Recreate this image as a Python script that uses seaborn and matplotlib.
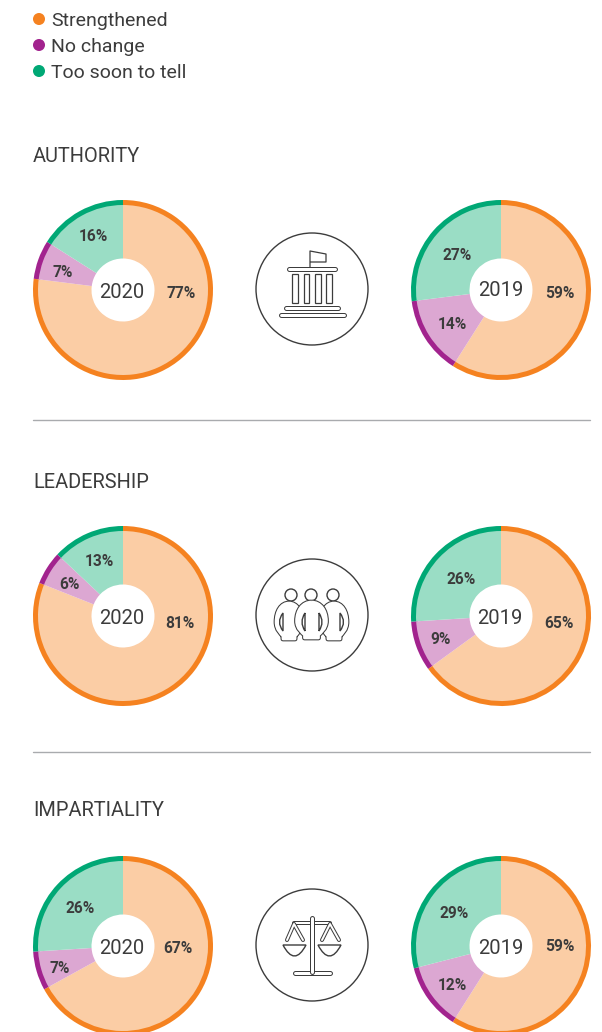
import numpy as np
import pandas as pd
import seaborn as sns
import matplotlib.pyplot as plt
from matplotlib.patches import Circle, Rectangle, PathPatch
from matplotlib.path import Path

# data
groups = ['Strengthened', 'No change', 'Too soon to tell']
authority_2020 = [77, 7, 16]
authority_2019 = [59, 14, 27]
leadership_2020 = [81, 6, 13]
leadership_2019 = [65, 9, 26]
impartiality_2020 = [67, 7, 26]
impartiality_2019 = [59, 12, 29]

strong = sns.color_palette(['#f58220', '#a2238e', '#00a875'])
light = sns.color_palette(['#fbcda5', '#dca7d2', '#9addc5'])
dark = '#3c3c3c'

sns.set_theme(style='white')
plt.rcParams['font.family'] = ['Roboto', 'DejaVu Sans']

W, H = 602, 1032
fig = plt.figure(figsize=(W / 100, H / 100), dpi=100)
ax = fig.add_axes([0, 0, 1, 1])


def Y(py):
    # picture rows run downwards, the axes upwards
    return H - py


def pie(values, cx, cy, year, year_xy, label_xy):
    ax.pie(values, colors=strong, startangle=90, counterclock=False, center=(cx, Y(cy)),
           radius=90, frame=True, wedgeprops=dict(width=6.5, linewidth=0))
    ax.pie(values, colors=light, startangle=90, counterclock=False, center=(cx, Y(cy)),
           radius=85, frame=True, wedgeprops=dict(width=53.5, linewidth=0))
    ax.text(year_xy[0], Y(year_xy[1]), year, ha='center', va='center_baseline', fontsize=14.5, color=dark)
    for v, (x, y) in zip(values, label_xy):
        ax.text(x, Y(y), f'{v}%', ha='center', va='center_baseline', fontsize=11.2, fontweight='bold', color=dark)


def stroke(xs, ys, w=5):
    # doubled line: dark underneath, white on top
    ys = [Y(y) for y in ys]
    ax.plot(xs, ys, color=dark, lw=w * 0.72, solid_capstyle='round', solid_joinstyle='round')
    ax.plot(xs, ys, color='white', lw=(w - 2) * 0.72, solid_capstyle='round', solid_joinstyle='round')


def ring(cx, cy):
    ax.add_patch(Circle((cx, Y(cy)), 56, fc='white', ec=dark, lw=1.0))


def icon_bank(cy):
    d = cy - 289
    ring(312, cy)
    ax.plot([310, 310, 326, 326, 311], [Y(268 + d), Y(251 + d), Y(254 + d), Y(262 + d), Y(262 + d)],
            color=dark, lw=0.9)
    stroke([289, 335], [268.5 + d, 268.5 + d])
    for x in [292, 303.5, 315, 326]:
        ax.add_patch(Rectangle((x, Y(303 + d)), 5.5, 29, fc='white', ec=dark, lw=0.9))
    stroke([286, 338], [307.5 + d, 307.5 + d])
    stroke([281, 344], [314.5 + d, 314.5 + d])


def body(cx, top, half):
    b = top + 36
    verts = [(cx, top),
             (cx + half * 0.6, top), (cx + half, top + 8), (cx + half, top + 19),
             (cx + half, top + 27), (cx + half * 0.6, top + 31), (cx + half * 0.47, top + 33),
             (cx + half * 0.47, b), (cx - half * 0.47, b), (cx - half * 0.47, top + 33),
             (cx - half * 0.6, top + 31), (cx - half, top + 27), (cx - half, top + 19),
             (cx - half, top + 8), (cx - half * 0.6, top), (cx, top)]
    codes = [Path.MOVETO] + [Path.CURVE4] * 6 + [Path.LINETO] * 3 + [Path.CURVE4] * 6
    verts = [(x, Y(y)) for x, y in verts]
    ax.add_patch(PathPatch(Path(verts, codes), fc='white', ec=dark, lw=3.4, joinstyle='round'))
    ax.add_patch(PathPatch(Path(verts, codes), fc='white', ec='white', lw=1.9, joinstyle='round'))


def d_shape(x, y0, y1, bulge):
    verts = [(x, Y(y0)), (x + bulge, Y((y0 + y1) / 2)), (x, Y(y1)), (x, Y(y0))]
    codes = [Path.MOVETO, Path.CURVE3, Path.CURVE3, Path.CLOSEPOLY]
    ax.add_patch(PathPatch(Path(verts, codes), fc='white', ec=dark, lw=1.0))


def icon_people(cy):
    d = cy - 615
    ring(312, cy)
    for x in [291, 311, 333]:
        ax.add_patch(Circle((x, Y(595 + d)), 6, fc='white', ec=dark, lw=1.0))
    body(289, 603 + d, 13)
    body(334, 603 + d, 13)
    body(311.5, 602 + d, 15)
    d_shape(283, 613 + d, 631 + d, -7)
    d_shape(340, 613 + d, 631 + d, 7)
    d_shape(305, 613 + d, 631 + d, -6)
    d_shape(319, 613 + d, 631 + d, 6)


def pan(x0, x1, y, depth):
    verts = [(x0, Y(y)), ((x0 + x1) / 2, Y(y + depth * 2)), (x1, Y(y)), (x0, Y(y))]
    codes = [Path.MOVETO, Path.CURVE3, Path.CURVE3, Path.CLOSEPOLY]
    ax.add_patch(PathPatch(Path(verts, codes), fc='white', ec=dark, lw=1.0))


def icon_scale(cy):
    d = cy - 945
    ring(312, cy)
    stroke([294, 330], [923 + d, 923 + d], 4)
    stroke([287, 294, 303], [940 + d, 924 + d, 940 + d], 4)
    stroke([322, 330, 339], [940 + d, 924 + d, 940 + d], 4)
    pan(283, 306, 945 + d, 11)
    pan(318, 341, 945 + d, 11)
    stroke([295, 330], [973 + d, 973 + d], 5)
    stroke([312, 312], [918 + d, 972 + d], 5)


# pies, left and right of each row
pie(authority_2020, 123, 290, '2020', (122, 290), [(181, 292), (63, 271), (93, 235)])
pie(authority_2019, 501, 290, '2019', (501, 288), [(560, 292), (452, 323), (457, 254)])
pie(leadership_2020, 123, 616, '2020', (122, 616), [(180, 622), (69, 583), (99, 560)])
pie(leadership_2019, 501, 616, '2019', (500, 617), [(559, 622), (441, 638), (461, 578)])
pie(impartiality_2020, 123, 946, '2020', (122, 946), [(178, 947), (60, 967), (80, 907)])
pie(impartiality_2019, 501, 946, '2019', (501, 946), [(560, 945), (452, 984), (454, 912)])

icon_bank(289)
icon_people(615)
icon_scale(945)

# legend
legend = pd.DataFrame({'x': [39, 39, 39], 'y': [Y(19), Y(45), Y(71)], 'group': groups})
sns.scatterplot(data=legend, x='x', y='y', hue='group', palette=list(strong), s=75,
                linewidth=0, legend=False, ax=ax)
for g, y in zip(groups, [19, 45, 71]):
    ax.text(51, Y(y), g, va='center_baseline', fontsize=14, color=dark)

for t, y in zip(['AUTHORITY', 'LEADERSHIP', 'IMPARTIALITY'], [155, 481, 809]):
    ax.text(33, Y(y), t, va='center_baseline', fontsize=14.4, color=dark)

for y in [420, 752]:
    ax.plot([33, 590], [Y(y), Y(y)], color='#a9abae', lw=1.0)

ax.set_xlim(0, W)
ax.set_ylim(0, H)
ax.set_aspect('equal')
ax.axis('off')
fig.savefig('out.png', dpi=100, facecolor='white')
